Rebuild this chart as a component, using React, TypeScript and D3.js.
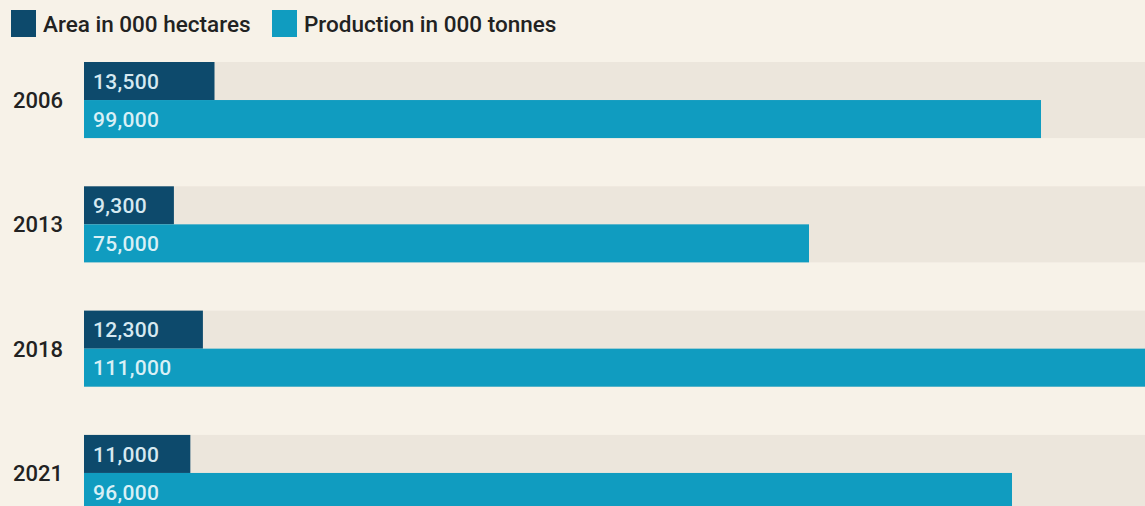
import React, { useEffect, useRef } from "react";
import * as d3 from "d3";

const years = ["2006", "2013", "2018", "2021"];
const areaValues = [13500, 9300, 12300, 11000];
const productionValues = [99000, 75000, 111000, 96000];
const seriesNames = ["Area in 000 hectares", "Production in 000 tonnes"];

const W = 1145;
const H = 506;
const DARK = "#0d4a6c";
const LIGHT = "#109cc0";
const BG = "#f7f2e8";
const TRACK = "#ece6dc";
const FONT = "Roboto, 'Noto Sans', sans-serif";

export default function App() {
  const ref = useRef<SVGSVGElement | null>(null);

  useEffect(() => {
    const svg = d3.select(ref.current);
    svg.selectAll("*").remove();

    svg.append("rect").attr("width", W).attr("height", H).attr("fill", BG);

    const x = d3.scaleLinear().domain([0, 99000]).range([84, 1041]);
    const y = d3.scaleBand<string>().domain(years).range([62, 511]).paddingInner(0.388).paddingOuter(0);
    const half = y.bandwidth() / 2;

    // legend
    const legend = svg.append("g");
    const legendItems = [
      { name: seriesNames[0], color: DARK, x: 11 },
      { name: seriesNames[1], color: LIGHT, x: 272 },
    ];
    legendItems.forEach((it) => {
      legend.append("rect").attr("x", it.x).attr("y", 10).attr("width", 25).attr("height", 27).attr("fill", it.color);
      legend
        .append("text")
        .attr("x", it.x + 32)
        .attr("y", 32)
        .attr("font-family", FONT)
        .attr("font-size", 22.5)
        .attr("font-weight", 500)
        .attr("fill", "#222")
        .text(it.name);
    });

    const rows = years.map((yr, i) => ({ year: yr, area: areaValues[i], prod: productionValues[i] }));
    const g = svg.selectAll("g.row").data(rows).enter().append("g").attr("class", "row");

    g.append("rect")
      .attr("x", x(0))
      .attr("y", (d) => y(d.year)!)
      .attr("width", W - x(0))
      .attr("height", y.bandwidth())
      .attr("fill", TRACK);

    g.append("rect")
      .attr("x", x(0))
      .attr("y", (d) => y(d.year)!)
      .attr("width", (d) => x(d.area) - x(0))
      .attr("height", half)
      .attr("fill", DARK);

    g.append("rect")
      .attr("x", x(0))
      .attr("y", (d) => y(d.year)! + half)
      .attr("width", (d) => x(d.prod) - x(0))
      .attr("height", half)
      .attr("fill", LIGHT);

    const fmt = d3.format(",");
    g.append("text")
      .attr("x", x(0) + 9)
      .attr("y", (d) => y(d.year)! + half / 2)
      .attr("dy", "0.36em")
      .attr("font-family", FONT)
      .attr("font-size", 21)
      .attr("font-weight", 500)
      .attr("letter-spacing", 0.3)
      .attr("fill", "#d6e9f1")
      .text((d) => fmt(d.area));

    g.append("text")
      .attr("x", x(0) + 9)
      .attr("y", (d) => y(d.year)! + half * 1.5)
      .attr("dy", "0.36em")
      .attr("font-family", FONT)
      .attr("font-size", 21)
      .attr("font-weight", 500)
      .attr("letter-spacing", 0.3)
      .attr("fill", "#d9f0f6")
      .text((d) => fmt(d.prod));

    g.append("text")
      .attr("x", 13)
      .attr("y", (d) => y(d.year)! + y.bandwidth() / 2)
      .attr("dy", "0.36em")
      .attr("font-family", FONT)
      .attr("font-size", 22)
      .attr("font-weight", 500)
      .attr("fill", "#222")
      .text((d) => d.year);
  }, []);

  return (
    <svg
      ref={ref}
      width={W}
      height={H}
      style={{ position: "absolute", left: 0, top: 0, display: "block" }}
    />
  );
}
